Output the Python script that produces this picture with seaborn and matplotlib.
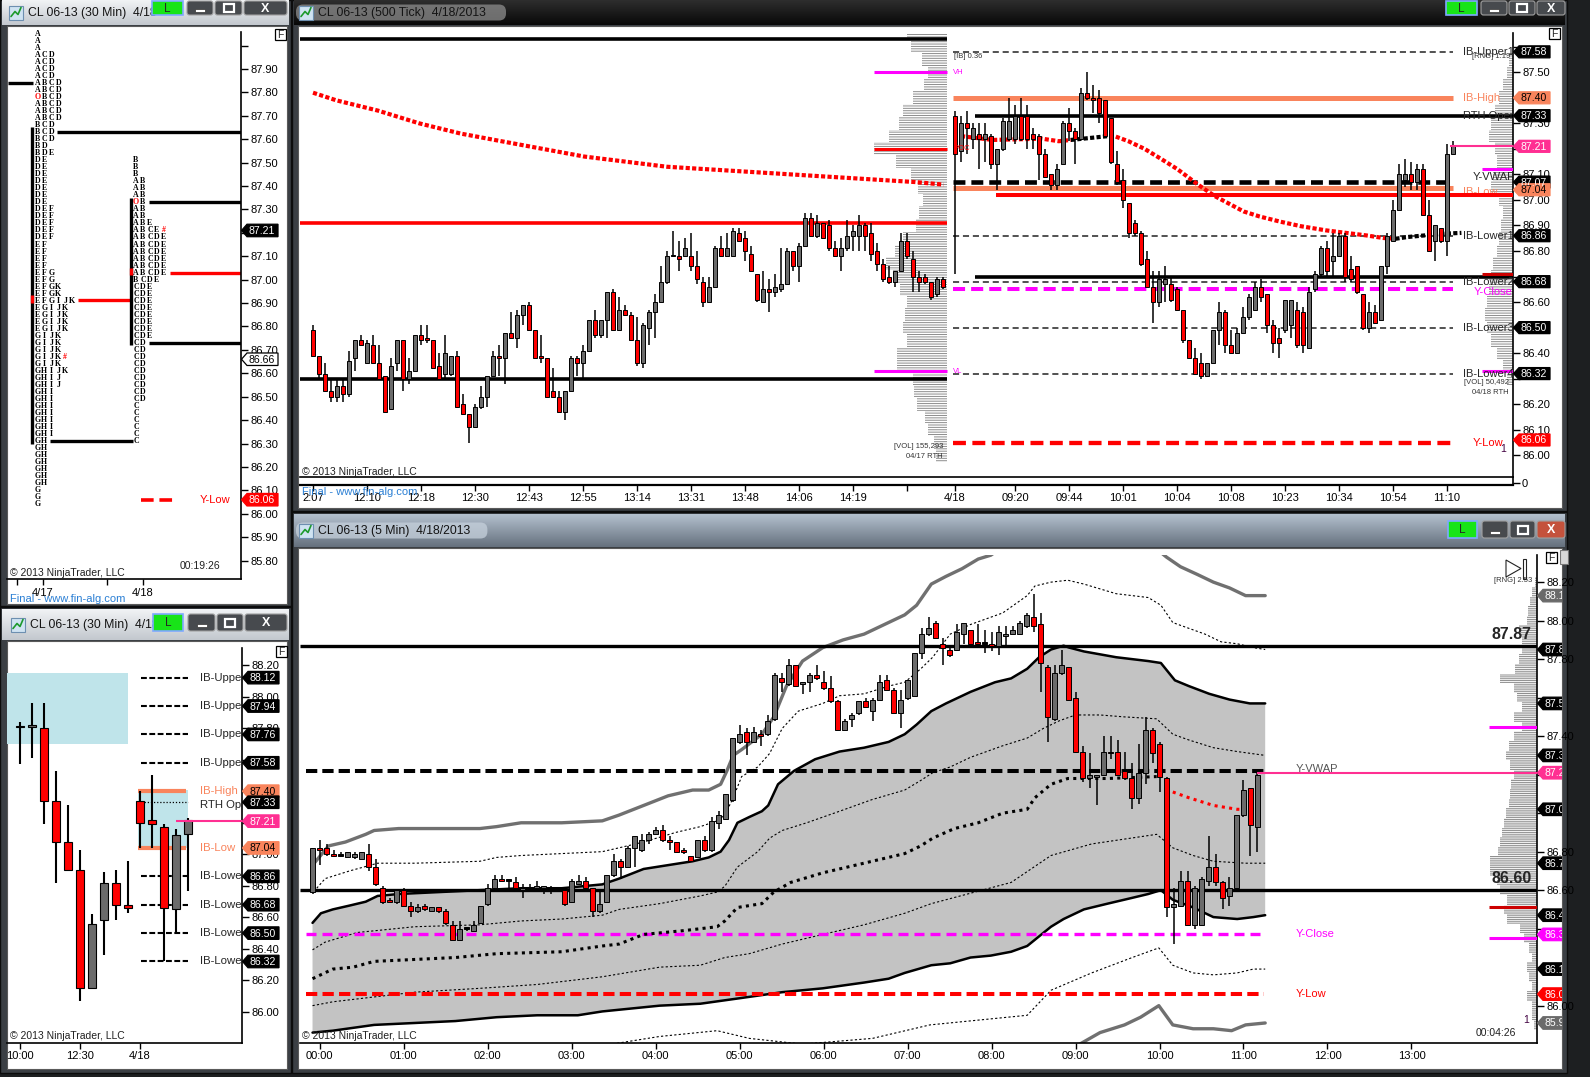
import numpy as np
import pandas as pd
import matplotlib
matplotlib.use("Agg")
import matplotlib.pyplot as plt
import seaborn as sns
from matplotlib.patches import Rectangle, Polygon, FancyBboxPatch
from matplotlib.colors import LinearSegmentedColormap
from matplotlib.transforms import Bbox

W, H = 1590, 1077
UP = "#6b6b6b"
DOWN = "#ff0000"
ORANGE = "#f9845c"
PINK = "#ff2f92"
MAGENTA = "#ff00ff"
LIGHTBLUE = "#bfe4ea"
FILLGRAY = "#c3c3c3"

# ---------------- data ----------------
# TPO profile rows: (letters, number of identical rows), one row = 0.03
TPO_STEP = 0.03
TPO_0417_TOP = 88.05
TPO_0417 = [("A", 3), ("ACD", 4), ("ABCD", 2), ("OBCD", 1), ("ABCD", 3), ("BCD", 3),
            ("BD", 1), ("BDE", 1), ("DE", 7), ("DEF", 5), ("EF", 4), ("EFG", 2),
            ("EFGK", 2), ("EFGIJK", 1), ("EGIJK", 4), ("GIJK", 3), ("GIJK#", 1),
            ("GIJK", 1), ("GHIJK", 1), ("GHIJ", 2), ("GHI", 7), ("GH", 7), ("G", 3)]
TPO_0418_TOP = 87.51
TPO_0418 = [("B", 3), ("AB", 3), ("OB", 1), ("AB", 2), ("ABE", 1), ("ABCE#", 1),
            ("ABCDE", 6), ("BCDE", 1), ("CDE", 8), ("CD", 9), ("C", 6)]
VA_0417 = (86.30, 87.65)
VA_0418 = (86.72, 87.35)
POC_0417 = 86.915
POC_0418 = 87.035
TPO_PRIOR_HIGH = 87.84
TPO_LEVELS_BLACK = [87.63, 86.31, 87.333, 86.73]
TPO_LEVEL_RED = 87.03
TPO_BOXES = [87.21, 86.66, 86.06]

# 30 min bars (open, high, low, close)
BARS_30M = [(87.81, 87.84, 87.57, 87.81), (87.81, 87.96, 87.61, 87.82),
            (87.80, 87.96, 87.19, 87.34), (87.34, 87.53, 86.82, 87.08),
            (87.08, 87.31, 86.90, 86.90), (86.90, 87.03, 86.07, 86.15),
            (86.15, 86.62, 86.15, 86.56), (86.58, 86.89, 86.36, 86.82),
            (86.82, 86.90, 86.58, 86.68), (86.68, 86.96, 86.63, 86.66),
            (87.34, 87.40, 87.04, 87.20), (87.22, 87.50, 87.04, 87.19),
            (87.17, 87.19, 86.32, 86.66), (86.65, 87.16, 86.50, 87.12),
            (87.13, 87.23, 86.77, 87.22)]
TIME_30M = ["10:00", "12:30", "4/18"]
IB_BOX_0417 = (87.70, 88.15)
IB_BOX_0418 = (87.04, 87.41)
IB_LEVELS = [88.12, 87.94, 87.76, 87.58, 86.86, 86.68, 86.50, 86.32]
IB_NAMES_30M = ["IB-Upper", "IB-Upper", "IB-Upper", "IB-Upper",
                "IB-Lower", "IB-Lower", "IB-Lower", "IB-Lower"]
IB_HIGH, IB_LOW, RTH_OPEN, LAST = 87.40, 87.04, 87.33, 87.21
BOXES_30M = [88.12, 87.94, 87.76, 87.58, 87.40, 87.33, 87.21, 87.04, 86.86, 86.68, 86.50, 86.32]

# 500 tick bars (open, high, low, close)
TICK_0417 = [
    (86.49, 86.51, 86.39, 86.39), (86.39, 86.39, 86.30, 86.32), (86.32, 86.36, 86.25, 86.25),
    (86.25, 86.30, 86.21, 86.23), (86.23, 86.30, 86.21, 86.27), (86.27, 86.30, 86.21, 86.24),
    (86.24, 86.41, 86.23, 86.37), (86.38, 86.45, 86.33, 86.45), (86.45, 86.47, 86.43, 86.43),
    (86.36, 86.45, 86.36, 86.44), (86.43, 86.47, 86.36, 86.36), (86.36, 86.43, 86.30, 86.30),
    (86.31, 86.31, 86.17, 86.17), (86.18, 86.38, 86.18, 86.35), (86.36, 86.45, 86.33, 86.45),
    (86.45, 86.45, 86.25, 86.30), (86.30, 86.38, 86.28, 86.33), (86.33, 86.47, 86.33, 86.47),
    (86.47, 86.51, 86.43, 86.45), (86.46, 86.51, 86.44, 86.45), (86.45, 86.45, 86.34, 86.34),
    (86.35, 86.40, 86.30, 86.30), (86.32, 86.47, 86.30, 86.40), (86.32, 86.39, 86.31, 86.39),
    (86.39, 86.41, 86.19, 86.19), (86.20, 86.24, 86.16, 86.16), (86.16, 86.16, 86.05, 86.11),
    (86.11, 86.20, 86.11, 86.19), (86.19, 86.27, 86.18, 86.23), (86.23, 86.31, 86.19, 86.31),
    (86.31, 86.41, 86.31, 86.39), (86.39, 86.43, 86.31, 86.38), (86.38, 86.48, 86.28, 86.48),
    (86.48, 86.56, 86.46, 86.46), (86.46, 86.57, 86.42, 86.55), (86.55, 86.59, 86.51, 86.59),
    (86.59, 86.60, 86.49, 86.49), (86.49, 86.49, 86.38, 86.38), (86.39, 86.47, 86.36, 86.38),
    (86.38, 86.38, 86.23, 86.23), (86.25, 86.34, 86.23, 86.23), (86.23, 86.25, 86.17, 86.17),
    (86.17, 86.25, 86.14, 86.25), (86.25, 86.39, 86.25, 86.38), (86.38, 86.39, 86.31, 86.36),
    (86.36, 86.43, 86.30, 86.41), (86.41, 86.53, 86.41, 86.53), (86.53, 86.57, 86.46, 86.47),
    (86.47, 86.53, 86.46, 86.53), (86.53, 86.64, 86.46, 86.64), (86.64, 86.65, 86.49, 86.49),
    (86.49, 86.62, 86.49, 86.57), (86.57, 86.59, 86.55, 86.55), (86.55, 86.56, 86.45, 86.45),
    (86.45, 86.54, 86.35, 86.36), (86.36, 86.52, 86.34, 86.51), (86.50, 86.57, 86.43, 86.56),
    (86.56, 86.63, 86.46, 86.60), (86.60, 86.74, 86.60, 86.68), (86.68, 86.80, 86.67, 86.78),
    (86.78, 86.88, 86.78, 86.78), (86.78, 86.84, 86.72, 86.77), (86.78, 86.85, 86.78, 86.81),
    (86.78, 86.87, 86.72, 86.74), (86.74, 86.80, 86.67, 86.69), (86.68, 86.70, 86.58, 86.60),
    (86.60, 86.70, 86.60, 86.66), (86.66, 86.82, 86.66, 86.81), (86.81, 86.86, 86.78, 86.78),
    (86.78, 86.87, 86.78, 86.81), (86.78, 86.89, 86.78, 86.88), (86.87, 86.89, 86.84, 86.84),
    (86.85, 86.88, 86.76, 86.80), (86.79, 86.82, 86.72, 86.72), (86.71, 86.71, 86.60, 86.61),
    (86.60, 86.72, 86.60, 86.65), (86.65, 86.69, 86.56, 86.64), (86.64, 86.71, 86.62, 86.66),
    (86.65, 86.81, 86.64, 86.67), (86.67, 86.81, 86.67, 86.80), (86.80, 86.80, 86.72, 86.74),
    (86.74, 86.83, 86.68, 86.82), (86.82, 86.95, 86.82, 86.93), (86.93, 86.95, 86.86, 86.86),
    (86.86, 86.94, 86.85, 86.91), (86.91, 86.91, 86.85, 86.85), (86.90, 86.92, 86.80, 86.81),
    (86.81, 86.84, 86.78, 86.78), (86.78, 86.85, 86.72, 86.81), (86.81, 86.92, 86.80, 86.86),
    (86.86, 86.90, 86.80, 86.88), (86.86, 86.94, 86.80, 86.90), (86.90, 86.91, 86.80, 86.86),
    (86.87, 86.91, 86.76, 86.79), (86.80, 86.83, 86.72, 86.75), (86.75, 86.77, 86.68, 86.69),
    (86.70, 86.74, 86.67, 86.68), (86.68, 86.72, 86.66, 86.72), (86.72, 86.87, 86.72, 86.84),
    (86.84, 86.87, 86.77, 86.78), (86.77, 86.80, 86.64, 86.70), (86.70, 86.72, 86.64, 86.68),
    (86.70, 86.71, 86.67, 86.68), (86.68, 86.68, 86.61, 86.62), (86.63, 86.70, 86.62, 86.69),
    (86.69, 86.70, 86.65, 86.66)]
TICK_0418 = [
    (87.33, 87.35, 86.71, 87.18), (87.19, 87.33, 87.15, 87.30), (87.30, 87.35, 87.18, 87.28),
    (87.24, 87.30, 87.20, 87.28), (87.26, 87.30, 87.12, 87.24), (87.24, 87.30, 87.15, 87.26),
    (87.25, 87.26, 87.12, 87.14), (87.14, 87.20, 87.04, 87.20), (87.20, 87.32, 87.19, 87.31),
    (87.24, 87.40, 87.23, 87.31), (87.24, 87.37, 87.22, 87.33), (87.33, 87.40, 87.23, 87.24),
    (87.33, 87.37, 87.20, 87.24), (87.26, 87.28, 87.20, 87.24), (87.25, 87.26, 87.08, 87.18),
    (87.18, 87.20, 87.09, 87.09), (87.10, 87.10, 87.04, 87.06), (87.06, 87.14, 87.04, 87.12),
    (87.14, 87.31, 87.14, 87.30), (87.30, 87.36, 87.23, 87.27), (87.27, 87.28, 87.14, 87.24),
    (87.24, 87.44, 87.24, 87.42), (87.42, 87.50, 87.39, 87.40), (87.40, 87.45, 87.34, 87.39),
    (87.40, 87.43, 87.30, 87.34), (87.39, 87.39, 87.25, 87.25), (87.32, 87.32, 87.14, 87.15),
    (87.14, 87.19, 87.06, 87.07), (87.08, 87.12, 86.97, 87.00), (86.99, 86.99, 86.85, 86.87),
    (86.91, 86.92, 86.86, 86.87), (86.87, 86.88, 86.74, 86.75), (86.77, 86.80, 86.66, 86.66),
    (86.66, 86.72, 86.52, 86.60), (86.60, 86.72, 86.58, 86.69), (86.67, 86.74, 86.60, 86.69),
    (86.67, 86.70, 86.60, 86.61), (86.65, 86.66, 86.57, 86.57), (86.57, 86.57, 86.44, 86.45),
    (86.45, 86.45, 86.38, 86.38), (86.38, 86.42, 86.32, 86.32), (86.36, 86.40, 86.30, 86.31),
    (86.31, 86.36, 86.31, 86.36), (86.36, 86.49, 86.36, 86.49), (86.49, 86.60, 86.43, 86.56),
    (86.56, 86.57, 86.40, 86.43), (86.43, 86.49, 86.40, 86.40), (86.40, 86.50, 86.40, 86.48),
    (86.48, 86.58, 86.48, 86.54), (86.54, 86.63, 86.53, 86.62), (86.57, 86.68, 86.57, 86.66),
    (86.66, 86.69, 86.60, 86.62), (86.63, 86.63, 86.48, 86.51), (86.51, 86.53, 86.40, 86.44),
    (86.46, 86.50, 86.38, 86.44), (86.49, 86.61, 86.48, 86.61), (86.51, 86.61, 86.46, 86.61),
    (86.57, 86.60, 86.42, 86.43), (86.56, 86.58, 86.40, 86.43), (86.42, 86.66, 86.42, 86.64),
    (86.65, 86.72, 86.64, 86.71), (86.71, 86.82, 86.70, 86.81), (86.81, 86.84, 86.70, 86.72),
    (86.76, 86.87, 86.70, 86.78), (86.78, 86.87, 86.78, 86.86), (86.86, 86.87, 86.68, 86.70),
    (86.73, 86.78, 86.68, 86.69), (86.74, 86.74, 86.63, 86.64), (86.63, 86.63, 86.49, 86.50),
    (86.50, 86.60, 86.48, 86.56), (86.56, 86.59, 86.52, 86.52), (86.53, 86.74, 86.53, 86.74),
    (86.74, 86.87, 86.71, 86.86), (86.84, 87.00, 86.84, 86.96), (86.96, 87.14, 86.96, 87.10),
    (87.08, 87.16, 87.05, 87.10), (87.10, 87.15, 87.04, 87.07), (87.07, 87.14, 87.04, 87.12),
    (87.12, 87.14, 86.94, 86.94), (86.94, 87.00, 86.80, 86.80), (86.84, 86.90, 86.76, 86.90),
    (86.89, 86.89, 86.83, 86.84), (86.84, 87.22, 86.78, 87.18), (87.18, 87.23, 87.18, 87.21)]
TICK_LABELS_0417 = ["2:07", "12:10", "12:18", "12:30", "12:43", "12:55", "13:14",
                    "13:31", "13:48", "14:06", "14:19"]
TICK_LABELS_0418 = ["4/18", "09:20", "09:44", "10:01", "10:04", "10:08", "10:23",
                    "10:34", "10:54", "11:10"]
VWAP_0417 = [(0, 87.42), (3.9, 87.39), (10.8, 87.35), (17.7, 87.30), (24.6, 87.26),
             (31.4, 87.23), (38.3, 87.20), (45.2, 87.17), (52.1, 87.15), (59.0, 87.13),
             (65.9, 87.12), (72.8, 87.11), (79.7, 87.10), (86.6, 87.09), (93.5, 87.08),
             (100.4, 87.07), (105.1, 87.06)]
VWAP_0418_SEGMENTS = [
    ("red", [(108, 87.25), (113.3, 87.235), (121.5, 87.24), (124.3, 87.23), (126.3, 87.235)]),
    ("black", [(126.3, 87.235), (132.5, 87.25), (133.8, 87.248)]),
    ("red", [(133.8, 87.248), (135.9, 87.23), (138.6, 87.20), (141.4, 87.16), (144.1, 87.12),
             (147.5, 87.06), (150.3, 87.015), (155.1, 86.955), (157.8, 86.935), (161.2, 86.915),
             (164.7, 86.897), (168.8, 86.881), (171.5, 86.873), (175.6, 86.861), (178.4, 86.851),
             (180.4, 86.848)]),
    ("black", [(180.4, 86.848), (182.5, 86.855), (185.2, 86.861), (188.6, 86.868), (191.4, 86.871)]),
]
VA_TICK_0417 = [87.63, 86.30]
POC_TICK_0417 = 86.91
VOL_MARKS_0417 = [87.50, 87.20, 86.33]          # VH, POC, VL
IB_TICK_DASHED = [87.58, 86.86, 86.68, 86.50, 86.32]
IB_TICK_NAMES = ["IB-Upper1", "IB-Lower1", "IB-Lower2", "IB-Lower3", "IB-Lower4"]
Y_VWAP_TICK, Y_CLOSE_TICK, Y_LOW = 87.07, 86.65, 86.05
RED_LEVEL_TICK, BLACK_LEVEL_TICK = 87.025, 86.70
TICK_MARKS_RIGHT = [87.12, 86.71, 86.33]
TICK_BOXES = [87.58, 87.40, 87.33, 87.21, 87.07, 87.04, 86.86, 86.68, 86.50, 86.32, 86.06]

# volume profiles (0.05 bins, relative length)
PROF_0417_LEVELS = [87.65, 87.60, 87.55, 87.50, 87.45, 87.40, 87.35, 87.30, 87.25, 87.20,
                    87.15, 87.10, 87.05, 87.00, 86.95, 86.90, 86.85, 86.80, 86.75, 86.70,
                    86.65, 86.60, 86.55, 86.50, 86.45, 86.40, 86.35, 86.30, 86.25, 86.20,
                    86.15, 86.10, 86.05, 86.00]
PROF_0417 = [0.55, 0.50, 0.35, 0.26, 0.32, 0.47, 0.60, 0.66, 0.80, 1.00,
             0.70, 0.50, 0.40, 0.33, 0.38, 0.42, 0.60, 0.72, 0.84, 0.74,
             0.65, 0.55, 0.58, 0.60, 0.55, 0.68, 0.68, 0.47, 0.45, 0.41,
             0.30, 0.26, 0.18, 0.15]
PROF_0418_LEVELS = [87.55, 87.50, 87.45, 87.40, 87.35, 87.30, 87.25, 87.20, 87.15, 87.10,
                    87.05, 87.00, 86.95, 86.90, 86.85, 86.80, 86.75, 86.70, 86.65, 86.60,
                    86.55, 86.50, 86.45, 86.40, 86.35, 86.30]
PROF_0418 = [0.14, 0.21, 0.36, 0.50, 0.64, 0.79, 0.86, 0.64, 0.57, 0.71,
             0.79, 0.50, 0.36, 0.43, 0.50, 0.57, 0.71, 0.79, 0.86, 0.93,
             1.00, 0.93, 0.79, 0.57, 0.36, 0.21]

# 5 min bars (open, high, low, close), first bar = 23:55
BARS_5M = [
    (86.59, 86.82, 86.58, 86.82), (86.82, 86.86, 86.73, 86.81), (86.82, 86.84, 86.78, 86.79),
    (86.79, 86.81, 86.77, 86.78), (86.78, 86.80, 86.77, 86.78), (86.77, 86.80, 86.77, 86.80),
    (86.77, 86.80, 86.76, 86.79), (86.76, 86.80, 86.76, 86.80), (86.79, 86.84, 86.70, 86.72),
    (86.72, 86.76, 86.62, 86.63), (86.61, 86.62, 86.53, 86.54), (86.55, 86.56, 86.54, 86.54),
    (86.54, 86.60, 86.53, 86.60), (86.60, 86.61, 86.52, 86.52), (86.52, 86.54, 86.46, 86.49),
    (86.49, 86.53, 86.48, 86.51), (86.52, 86.53, 86.49, 86.50), (86.49, 86.51, 86.49, 86.51),
    (86.51, 86.51, 86.48, 86.49), (86.49, 86.50, 86.42, 86.43), (86.42, 86.44, 86.34, 86.34),
    (86.34, 86.44, 86.34, 86.40), (86.40, 86.41, 86.39, 86.40), (86.39, 86.44, 86.39, 86.42),
    (86.43, 86.52, 86.43, 86.52), (86.53, 86.63, 86.52, 86.61), (86.61, 86.68, 86.60, 86.66),
    (86.66, 86.68, 86.65, 86.65), (86.65, 86.66, 86.61, 86.65), (86.64, 86.67, 86.60, 86.61),
    (86.60, 86.63, 86.56, 86.61), (86.61, 86.63, 86.59, 86.61), (86.61, 86.65, 86.60, 86.62),
    (86.61, 86.62, 86.58, 86.62), (86.61, 86.62, 86.58, 86.61), (86.60, 86.61, 86.59, 86.60),
    (86.60, 86.60, 86.52, 86.53), (86.54, 86.66, 86.54, 86.65), (86.63, 86.68, 86.63, 86.65),
    (86.65, 86.67, 86.60, 86.61), (86.61, 86.61, 86.46, 86.49), (86.49, 86.59, 86.48, 86.53),
    (86.54, 86.68, 86.54, 86.68), (86.68, 86.79, 86.67, 86.75), (86.75, 86.76, 86.66, 86.72),
    (86.72, 86.83, 86.72, 86.82), (86.82, 86.88, 86.72, 86.88), (86.81, 86.89, 86.80, 86.86),
    (86.86, 86.90, 86.84, 86.89), (86.89, 86.93, 86.89, 86.91), (86.91, 86.94, 86.85, 86.86),
    (86.86, 86.88, 86.81, 86.85), (86.85, 86.85, 86.80, 86.80), (86.81, 86.82, 86.79, 86.80),
    (86.78, 86.78, 86.75, 86.75), (86.77, 86.86, 86.77, 86.86), (86.86, 86.88, 86.80, 86.81),
    (86.81, 86.98, 86.80, 86.96), (86.95, 87.01, 86.92, 86.99), (86.97, 87.10, 86.97, 87.10),
    (87.07, 87.39, 87.06, 87.39), (87.37, 87.46, 87.36, 87.41), (87.42, 87.44, 87.30, 87.37),
    (87.37, 87.45, 87.37, 87.42), (87.41, 87.43, 87.35, 87.40), (87.41, 87.51, 87.40, 87.48),
    (87.49, 87.73, 87.48, 87.72), (87.70, 87.73, 87.63, 87.68), (87.67, 87.80, 87.66, 87.77),
    (87.77, 87.77, 87.66, 87.66), (87.67, 87.68, 87.62, 87.68), (87.68, 87.73, 87.63, 87.72),
    (87.72, 87.77, 87.69, 87.70), (87.68, 87.74, 87.64, 87.65), (87.65, 87.71, 87.57, 87.58),
    (87.58, 87.59, 87.43, 87.43), (87.43, 87.49, 87.43, 87.48), (87.49, 87.52, 87.45, 87.51),
    (87.52, 87.58, 87.51, 87.58), (87.58, 87.60, 87.55, 87.55), (87.53, 87.60, 87.48, 87.59),
    (87.59, 87.72, 87.59, 87.68), (87.69, 87.72, 87.64, 87.64), (87.64, 87.65, 87.52, 87.52),
    (87.52, 87.64, 87.44, 87.59), (87.60, 87.69, 87.59, 87.69), (87.61, 87.83, 87.61, 87.83),
    (87.83, 87.96, 87.80, 87.93), (87.93, 88.02, 87.92, 87.96), (87.99, 88.00, 87.91, 87.91),
    (87.88, 87.91, 87.77, 87.86), (87.85, 87.86, 87.81, 87.82), (87.85, 87.98, 87.84, 87.94),
    (87.93, 87.99, 87.88, 87.99), (87.95, 87.95, 87.88, 87.88), (87.89, 87.98, 87.87, 87.88),
    (87.88, 87.95, 87.83, 87.88), (87.88, 87.94, 87.84, 87.87), (87.87, 87.97, 87.82, 87.94),
    (87.92, 87.97, 87.86, 87.93), (87.93, 87.97, 87.93, 87.95), (87.93, 88.00, 87.93, 87.99),
    (87.97, 88.04, 87.96, 88.03), (88.02, 88.14, 87.94, 87.97), (87.98, 88.04, 87.63, 87.78),
    (87.76, 87.77, 87.37, 87.50), (87.49, 87.77, 87.48, 87.73), (87.73, 87.85, 87.72, 87.77),
    (87.76, 87.76, 87.58, 87.59), (87.60, 87.63, 87.31, 87.32), (87.32, 87.35, 87.16, 87.18),
    (87.18, 87.31, 87.13, 87.20), (87.19, 87.20, 87.04, 87.20), (87.20, 87.40, 87.20, 87.32),
    (87.32, 87.40, 87.28, 87.31), (87.32, 87.38, 87.20, 87.20), (87.22, 87.32, 87.17, 87.18),
    (87.18, 87.26, 87.02, 87.08), (87.08, 87.36, 87.05, 87.21), (87.21, 87.50, 87.15, 87.43),
    (87.43, 87.44, 87.26, 87.31), (87.36, 87.37, 87.11, 87.19), (87.18, 87.19, 86.46, 86.51),
    (86.51, 86.61, 86.32, 86.53), (86.52, 86.70, 86.51, 86.65), (86.65, 86.70, 86.42, 86.42),
    (86.42, 86.62, 86.40, 86.61), (86.42, 86.67, 86.42, 86.66), (86.65, 86.88, 86.62, 86.72),
    (86.72, 86.79, 86.62, 86.64), (86.64, 86.65, 86.50, 86.56), (86.57, 86.67, 86.52, 86.61),
    (86.61, 86.99, 86.61, 86.99), (86.99, 87.17, 86.98, 87.12), (87.13, 87.13, 86.78, 86.94),
    (86.93, 87.22, 86.80, 87.20)]
HOURS_5M = ["00:00", "01:00", "02:00", "03:00", "04:00", "05:00", "06:00",
            "07:00", "08:00", "09:00", "10:00", "11:00", "12:00", "13:00"]
BAND_OUT_UP = [(0, 86.73), (2.3, 86.83), (4.7, 86.85), (7.6, 86.89), (8.8, 86.91), (12.3, 86.92),
               (18.1, 86.92), (23.9, 86.92), (26.3, 86.93), (29.8, 86.95), (35.6, 86.95),
               (41.4, 86.96), (43.8, 86.99), (47.3, 87.04), (50.8, 87.09), (54.3, 87.12),
               (56.6, 87.12), (58.3, 87.15), (59.2, 87.22), (60.1, 87.30), (61.3, 87.33),
               (64.2, 87.41), (65.9, 87.50), (67.7, 87.66), (70.0, 87.79), (72.9, 87.86),
               (75.8, 87.90), (78.8, 87.93), (81.7, 87.98), (84.6, 88.03), (86.3, 88.08),
               (88.4, 88.19), (90.5, 88.23), (92.8, 88.27), (95.1, 88.32), (96.9, 88.34),
               (100, 88.42), (110, 88.52), (118, 88.45), (122.0, 88.33), (124.0, 88.28),
               (126.4, 88.24), (128.7, 88.20), (131.0, 88.17), (133.3, 88.13), (136.1, 88.13)]
BAND_UP = [(0, 86.43), (1.2, 86.48), (2.9, 86.50), (5.3, 86.52), (7.6, 86.54), (9.3, 86.57),
           (12.3, 86.58), (18.1, 86.59), (23.9, 86.60), (29.8, 86.61), (35.6, 86.61),
           (41.4, 86.63), (43.8, 86.66), (47.3, 86.71), (50.8, 86.73), (54.3, 86.75),
           (56.6, 86.77), (58.3, 86.80), (59.5, 86.86), (60.7, 86.95), (62.4, 86.98),
           (64.2, 87.01), (65.1, 87.04), (66.5, 87.15), (68.8, 87.22), (71.8, 87.28),
           (75.3, 87.32), (78.8, 87.34), (82.3, 87.37), (84.6, 87.41), (86.3, 87.46),
           (88.4, 87.53), (90.5, 87.57), (94.0, 87.63), (97.5, 87.68), (99.8, 87.70),
           (102.1, 87.75), (103.8, 87.81), (105.5, 87.85), (107.3, 87.87), (108.1, 87.86),
           (110.2, 87.84), (114.8, 87.81), (119.4, 87.79), (121.2, 87.78), (123.2, 87.69),
           (125.2, 87.66), (128.1, 87.62), (131.0, 87.59), (133.9, 87.57), (136.1, 87.57)]
BAND_DN = [(0, 85.86), (2.9, 85.87), (8.8, 85.90), (14.6, 85.91), (20.4, 85.92), (26.3, 85.94),
           (32.1, 85.95), (37.9, 85.95), (41.4, 85.97), (49.6, 86.00), (55.4, 86.01),
           (61.3, 86.04), (67.1, 86.07), (72.9, 86.09), (78.8, 86.12), (82.3, 86.14),
           (84.6, 86.17), (88.4, 86.21), (91.1, 86.22), (94.0, 86.25), (96.9, 86.26),
           (99.8, 86.28), (102.1, 86.31), (103.8, 86.36), (105.5, 86.41), (107.3, 86.45),
           (110.2, 86.50), (113.6, 86.53), (117.1, 86.56), (119.4, 86.58), (121.2, 86.60),
           (122.9, 86.55), (125.8, 86.51), (128.7, 86.46), (132.1, 86.45), (134.4, 86.46),
           (136.1, 86.47)]
BAND_OUT_DN = [(100, 85.62), (106, 85.72), (109.6, 85.80), (112.5, 85.86), (116.0, 85.90),
               (118.3, 85.94), (120.9, 86.00), (122.9, 85.90), (125.8, 85.88), (128.7, 85.88),
               (131.3, 85.87), (133.3, 85.90), (136.1, 85.91)]
DOT_UP = [(0.6, 86.61), (1.8, 86.66), (5.3, 86.70), (9.3, 86.74), (14.6, 86.74), (23.9, 86.75),
          (26.3, 86.77), (29.8, 86.78), (35.6, 86.79), (41.4, 86.80), (43.8, 86.82), (47.3, 86.85),
          (51.9, 86.90), (55.4, 86.93), (57.8, 86.96), (58.9, 86.99), (60.1, 87.08), (61.3, 87.19),
          (63.6, 87.24), (65.3, 87.31), (67.1, 87.44), (69.4, 87.53), (72.9, 87.57), (75.3, 87.61),
          (78.8, 87.62), (82.3, 87.66), (84.6, 87.68), (86.9, 87.75), (88.6, 87.81), (91.1, 87.93),
          (94.0, 87.98), (98.6, 88.04), (102.1, 88.13), (103.2, 88.18), (105.5, 88.20),
          (107.9, 88.21), (110.2, 88.19), (114.8, 88.14), (119.4, 88.12), (121.2, 88.08),
          (122.9, 87.99), (125.2, 87.96), (127.5, 87.93), (129.8, 87.89), (132.1, 87.88),
          (134.4, 87.86), (136.1, 87.85)]
DOT_MID = [(0, 86.29), (1.8, 86.33), (6.4, 86.38), (14.6, 86.41), (23.9, 86.42), (29.8, 86.44),
           (35.6, 86.45), (41.4, 86.47), (43.8, 86.50), (49.6, 86.53), (55.4, 86.57), (57.8, 86.59),
           (58.9, 86.62), (60.7, 86.72), (63.6, 86.80), (65.3, 86.87), (67.1, 86.91), (70.6, 86.95),
           (75.3, 87.01), (79.9, 87.07), (84.6, 87.12), (86.9, 87.17), (88.6, 87.21), (91.1, 87.24),
           (94.0, 87.29), (98.6, 87.35), (102.1, 87.39), (104.4, 87.44), (106.7, 87.48),
           (109.0, 87.51), (112.5, 87.51), (116.0, 87.50), (120.6, 87.49), (122.9, 87.41),
           (125.2, 87.38), (128.7, 87.34), (132.1, 87.32), (136.1, 87.30)]
DOT_LOW = [(0, 86.00), (2.9, 86.02), (14.6, 86.07), (23.9, 86.09), (32.1, 86.11), (41.4, 86.15),
           (49.6, 86.20), (55.4, 86.21), (58.9, 86.25), (62.4, 86.27), (67.1, 86.32), (72.9, 86.37),
           (78.8, 86.42), (84.6, 86.48), (88.4, 86.53), (99.8, 86.64), (105.5, 86.78),
           (111.3, 86.84), (120.6, 86.89), (122.9, 86.82), (125.8, 86.78), (128.7, 86.75),
           (133.3, 86.74), (136.1, 86.74)]
DOT_DN = [(41, 85.79), (49.6, 85.84), (57.8, 85.87), (62.4, 85.83), (70, 85.80), (80, 85.83),
          (88.2, 85.90), (102.1, 85.95), (105.5, 86.08), (111.3, 86.17), (117.1, 86.25),
          (120.9, 86.30), (122.9, 86.21), (125.8, 86.17), (128.7, 86.16), (132.1, 86.17),
          (134.4, 86.19), (136.1, 86.19)]
VWAP_5M = [(0, 86.14), (2.9, 86.19), (5.8, 86.20), (8.8, 86.23), (14.6, 86.24), (20.4, 86.25),
           (26.3, 86.27), (35.6, 86.28), (41.4, 86.31), (43.8, 86.32), (47.3, 86.37), (53.1, 86.39),
           (57.8, 86.41), (58.9, 86.44), (60.7, 86.51), (64.2, 86.53), (65.9, 86.59), (68.3, 86.64),
           (72.9, 86.69), (77.6, 86.73), (81.1, 86.76), (84.6, 86.79), (86.9, 86.83), (88.6, 86.87),
           (91.7, 86.92), (95.1, 86.95), (98.6, 87.00), (102.1, 87.02), (103.2, 87.08),
           (105.5, 87.15), (107.9, 87.18), (109.6, 87.18), (113.6, 87.18), (120.6, 87.19)]
VWAP_5M_RED = [(122.9, 87.11), (125.2, 87.08), (128.7, 87.04), (132.1, 87.02), (134.5, 87.02)]
LEVELS_5M = [87.87, 86.60]
Y_VWAP_5M, Y_CLOSE_5M, Y_LOW_5M = 87.22, 86.37, 86.06
MARKS_5M = [87.45, 86.51, 86.35]
BOXES_5M = [88.13, 87.85, 87.57, 87.30, 87.21, 87.02, 86.74, 86.47, 86.37, 86.19, 86.06, 85.91]
PROF_5M_LEVELS = [88.20, 88.15, 88.10, 88.05, 88.00, 87.95, 87.90, 87.85, 87.80, 87.75, 87.70,
                  87.65, 87.60, 87.55, 87.50, 87.45, 87.40, 87.35, 87.30, 87.25, 87.20, 87.15,
                  87.10, 87.05, 87.00, 86.95, 86.90, 86.85, 86.80, 86.75, 86.70, 86.65, 86.60,
                  86.55, 86.50, 86.45, 86.40, 86.35, 86.30, 86.25, 86.20, 86.15, 86.10, 86.05,
                  86.00, 85.95, 85.90]
PROF_5M = [0.05, 0.10, 0.15, 0.20, 0.22, 0.38, 0.32, 0.32, 0.38, 0.47, 0.79,
           0.49, 0.43, 0.32, 0.49, 0.32, 0.49, 0.60, 0.66, 0.57, 0.49, 0.55,
           0.57, 0.60, 0.66, 0.70, 0.74, 0.79, 0.83, 1.00, 1.00, 0.85, 0.79,
           0.64, 0.70, 0.64, 0.36, 0.28, 0.17, 0.11, 0.21, 0.17, 0.10, 0.21,
           0.10, 0.10, 0.06]

# ---------------- figure scaffolding ----------------
sns.set_theme(style="ticks")
plt.rcParams["font.family"] = ["Liberation Sans", "DejaVu Sans"]
plt.rcParams["hatch.linewidth"] = 0.7
plt.rcParams["hatch.color"] = "#8c8c8c"

fig = plt.figure(figsize=(W / 100, H / 100), dpi=100)
fig.patch.set_facecolor("#1d1f21")


def px_axes(x0, y0, x1, y1, z=1):
    ax = fig.add_axes([x0 / W, 1 - y1 / H, (x1 - x0) / W, (y1 - y0) / H])
    ax.set_zorder(z)
    return ax


bg = px_axes(0, 0, W, H, z=0)
bg.set_xlim(0, W)
bg.set_ylim(H, 0)
bg.axis("off")
ov = px_axes(0, 0, W, H, z=50)
ov.set_xlim(0, W)
ov.set_ylim(H, 0)
ov.axis("off")

BAR_CMAPS = {
    "light": LinearSegmentedColormap.from_list("l", ["#f1f3f5", "#c3c8ce"]),
    "dark": LinearSegmentedColormap.from_list("d", ["#2e2e2e", "#080808"]),
    "blue": LinearSegmentedColormap.from_list("b", ["#b3c0ce", "#66717e"]),
}


def button(x0, y0, x1, y1, kind, fc="#474a4e"):
    if kind == "L":
        bg.add_patch(Rectangle((x0, y0), x1 - x0, y1 - y0, fc="#18e418", ec="#7fa8ff", lw=1.2, zorder=6))
        bg.text((x0 + x1) / 2, (y0 + y1) / 2 + 0.5, "L", ha="center", va="center", fontsize=8.5, zorder=7)
        return
    bg.add_patch(FancyBboxPatch((x0, y0), x1 - x0, y1 - y0, boxstyle="round,pad=0,rounding_size=2.5",
                                fc=fc, ec="#a0a0a0", lw=0.8, zorder=6))
    cx, cy = (x0 + x1) / 2, (y0 + y1) / 2
    if kind == "min":
        bg.add_patch(Rectangle((cx - 5, cy + 1), 10, 3, fc="white", ec="#333", lw=0.5, zorder=7))
    elif kind == "max":
        bg.add_patch(Rectangle((cx - 5, cy - 4), 10, 8, fc="none", ec="white", lw=1.6, zorder=7))
    else:
        bg.text(cx, cy + 0.5, "X", ha="center", va="center", fontsize=9, color="white",
                fontweight="bold", zorder=7)


def window(frame, bar, content, title, style, tx, buttons):
    x0, y0, x1, y1 = frame
    bg.add_patch(Rectangle((x0, y0), x1 - x0, y1 - y0, fc="#3b3f44", ec="#0c0c0c", lw=1, zorder=1))
    bx0, by0, bx1, by1 = bar
    grad = np.linspace(0, 1, 64).reshape(-1, 1)
    bg.imshow(grad, extent=(bx0, bx1, by1, by0), aspect="auto", cmap=BAR_CMAPS[style], zorder=2)
    cx0, cy0, cx1, cy1 = content
    bg.add_patch(Rectangle((cx0, cy0), cx1 - cx0, cy1 - cy0, fc="white", ec="#5a5a5a", lw=0.8, zorder=3))
    ty = (by0 + by1) / 2
    if style != "light":
        halo = "#8e8e8e" if style == "dark" else "#c6d1dc"
        bg.add_patch(FancyBboxPatch((tx - 22, ty - 8), len(title) * 6.2 + 24, 16,
                                    boxstyle="round,pad=0,rounding_size=7", fc=halo, ec="none",
                                    alpha=0.75, zorder=3))
    # chart icon
    bg.add_patch(Rectangle((tx - 19, ty - 7), 14, 14, fc="#cfe3f2", ec="#6d8fb0", lw=0.8, zorder=4))
    bg.plot([tx - 17, tx - 13, tx - 10, tx - 7], [ty + 4, ty - 1, ty + 2, ty - 5], color="#1c9a2c",
            lw=1.2, zorder=5)
    bg.text(tx, ty + 0.5, title, ha="left", va="center", fontsize=8.8, color="#141414", zorder=5)
    for b in buttons:
        button(*b)


window((0, 0, 291, 606), (2, 0, 289, 25), (7, 26, 287, 604), "CL 06-13 (30 Min)  4/18", "light", 28,
       [(152, 1, 183, 15, "L"), (187, 1, 213, 15, "min"), (215, 1, 242, 15, "max"), (244, 1, 287, 15, "x")])
window((0, 607, 291, 1073), (2, 609, 289, 640), (7, 641, 287, 1069), "CL 06-13 (30 Min)  4/18", "light", 30,
       [(153, 614, 183, 631, "L"), (188, 614, 215, 631, "min"), (217, 614, 243, 631, "max"),
        (245, 614, 287, 631, "x")])
window((292, 0, 1567, 511), (294, 0, 1565, 25), (298, 26, 1562, 508), "CL 06-13 (500 Tick)  4/18/2013",
       "dark", 318,
       [(1446, 1, 1477, 15, "L"), (1481, 1, 1507, 15, "min"), (1509, 1, 1535, 15, "max"),
        (1537, 1, 1565, 15, "x")])
window((292, 512, 1567, 1073), (294, 514, 1565, 547), (298, 548, 1562, 1069), "CL 06-13 (5 Min)  4/18/2013",
       "blue", 318,
       [(1448, 521, 1477, 538, "L"), (1482, 521, 1508, 538, "min"), (1510, 521, 1535, 538, "max"),
        (1537, 521, 1565, 538, "x", "#c4523c")])


def ypx(P, price):
    return P["y0"] + (P["hi"] - price) / (P["hi"] - P["lo"]) * (P["y1"] - P["y0"])


def tick_labels(P, ticks, boxes, thr, blank_above=None):
    # labels that sit right under a price marker are not visible in the screenshot
    out = []
    for v in ticks:
        d = min(abs(ypx(P, v) - ypx(P, b)) for b in boxes)
        hidden = d < thr or (blank_above is not None and v > blank_above)
        out.append("" if hidden else "%.2f" % v)
    return out


def style_price_axis(ax, ticks, labels):
    ax.set_facecolor("none")
    for s in ["left", "top"]:
        ax.spines[s].set_visible(False)
    for s in ["right", "bottom"]:
        ax.spines[s].set_linewidth(1.2)
        ax.spines[s].set_color("black")
    ax.yaxis.tick_right()
    ax.set_yticks(ticks)
    ax.set_yticklabels(labels)
    ax.tick_params(axis="y", left=False, right=True, direction="out", length=5, width=1,
                   labelsize=8, pad=1.5, colors="black")
    ax.tick_params(axis="x", direction="out", length=4, width=1, labelsize=8, pad=2, colors="black")
    ax.grid(False)


def finish(ax, xlim, ylim):
    ax.set_xlim(*xlim)
    ax.set_ylim(*ylim)
    ax.set_xlabel("")
    ax.set_ylabel("")


def price_box(P, price, text, fc, tc="white", ec=None, clip=None, h=12.5, w=37):
    x, y = P["x1"], ypx(P, price)
    tip = 6
    poly = Polygon([[x + 0.5, y], [x + tip, y - h / 2], [x + w, y - h / 2], [x + w, y + h / 2],
                    [x + tip, y + h / 2]], closed=True, fc=fc, ec=ec or fc, lw=0.9, zorder=30)
    ov.add_patch(poly)
    t = ov.text(x + tip + 1.5, y + 0.5, text, color=tc, fontsize=7.6, ha="left", va="center",
                zorder=31, clip_on=True)
    if clip is not None:
        bb = Bbox.from_extents(clip[0], H - clip[3], clip[2], H - clip[1])
        poly.set_clip_box(bb)
        t.set_clip_box(bb)


def f_box(x, y):
    ov.add_patch(Rectangle((x, y), 11, 11, fc="white", ec="black", lw=0.9, zorder=30))
    ov.text(x + 5.5, y + 6, "F", ha="center", va="center", fontsize=7.5, zorder=31)


def candles(ax, xs, ohlc, width, wick_lw=1.1, edge_lw=0.7, min_h=0.006):
    arr = np.asarray(ohlc, dtype=float)
    o, h, l, c = arr.T
    xs = np.asarray(xs, dtype=float)
    ax.vlines(xs, l, h, colors="black", lw=wick_lw, zorder=5)
    colors = np.where(c > o, UP, np.where(c < o, DOWN, "black")).tolist()
    ax.bar(xs, np.maximum(np.abs(c - o), min_h), bottom=np.minimum(o, c), width=width,
           color=colors, edgecolor="black", linewidth=edge_lw, zorder=6)


def line(ax, pts, **kw):
    df = pd.DataFrame(pts, columns=["bar", "price"])
    sns.lineplot(data=df, x="bar", y="price", ax=ax, estimator=None, sort=False, **kw)


def profile(ax, levels, rel, right, scale, hatch):
    w = np.asarray(rel) * scale
    ax.barh(levels, w, left=right - w, height=0.05, color="none", edgecolor="#8c8c8c",
            hatch=hatch, linewidth=0, zorder=1)


# ---------------- panel A: TPO profile ----------------
PA = dict(x0=7, x1=241, y0=31.7, y1=579.3, lo=85.72, hi=88.059)
axA = px_axes(PA["x0"], PA["y0"], PA["x1"], PA["y1"], z=5)
yt = np.round(np.arange(85.8, 88.05, 0.1), 2)
style_price_axis(axA, yt, tick_labels(PA, yt, TPO_BOXES, 5.5, blank_above=87.95))
for rows, top, x_first in [(TPO_0417, TPO_0417_TOP, 37.3), (TPO_0418, TPO_0418_TOP, 136.0)]:
    price = top
    for letters, n in rows:
        for _ in range(n):
            for k, ch in enumerate(letters):
                axA.text(x_first + 7 * k, price, ch, fontsize=5.7, fontweight="bold",
                         family="Liberation Serif", color="red" if ch in "O#" else "black",
                         ha="center", va="center", zorder=4)
            price -= TPO_STEP
axA.vlines(32.3, *VA_0417, color="black", lw=2.4, zorder=3)
axA.vlines(32.3, POC_0417 - 0.015, POC_0417 + 0.02, color="red", lw=2.4, zorder=4)
axA.vlines(130.7, *VA_0418, color="black", lw=2.4, zorder=3)
axA.vlines(130.7, POC_0418 - 0.015, POC_0418 + 0.015, color="red", lw=2.4, zorder=4)
axA.hlines(TPO_PRIOR_HIGH, 8, 33, color="black", lw=2.4)
axA.hlines(TPO_LEVELS_BLACK[0], 57, 241, color="black", lw=2.4)
axA.hlines(TPO_LEVELS_BLACK[1], 50, 133, color="black", lw=2.4)
axA.hlines(TPO_LEVELS_BLACK[2], 149, 241, color="black", lw=2.4)
axA.hlines(TPO_LEVELS_BLACK[3], 149, 241, color="black", lw=2.4)
axA.hlines(POC_0417, 78, 130, color="red", lw=2.4)
axA.hlines(TPO_LEVEL_RED, 170, 241, color="red", lw=2.4)
axA.plot([141, 177], [Y_LOW_5M, Y_LOW_5M], color="red", lw=2.6, ls=(0, (3.5, 1.6)))
axA.text(200, Y_LOW_5M, "Y-Low", color="red", fontsize=8, va="center")
axA.set_xticks([17, 43, 107, 143])
axA.set_xticklabels(["", "4/17", "", "4/18"])
finish(axA, (PA["x0"], PA["x1"]), (PA["lo"], PA["hi"]))
clipA = (7, 26, 287, 604)
price_box(PA, TPO_BOXES[0], "87.21", "black", clip=clipA)
price_box(PA, TPO_BOXES[1], "86.66", "white", tc="black", ec="black", clip=clipA)
price_box(PA, TPO_BOXES[2], "86.06", "red", clip=clipA)
f_box(275, 29)
ov.text(10, 573, "\u00a9 2013 NinjaTrader, LLC", fontsize=7.5, va="center", color="#202020")
ov.text(180, 566, "00:19:26", fontsize=7.5, va="center", color="#202020")
ov.text(10, 599, "Final - www.fin-alg.com", fontsize=8, va="center", color="#2a7fd4")

# ---------------- panel B: 30 min bars ----------------
PB = dict(x0=7, x1=242, y0=648, y1=1042.7, lo=85.805, hi=88.308)
axB = px_axes(PB["x0"], PB["y0"], PB["x1"], PB["y1"], z=5)
yt = np.round(np.arange(86.0, 88.25, 0.2), 2)
style_price_axis(axB, yt, tick_labels(PB, yt, BOXES_30M, 5.0))
axB.add_patch(Rectangle((-1.1, IB_BOX_0417[0]), 10.1, IB_BOX_0417[1] - IB_BOX_0417[0],
                        fc=LIGHTBLUE, lw=0, zorder=1))
axB.add_patch(Rectangle((9.83, IB_BOX_0418[0]), 4.17, IB_BOX_0418[1] - IB_BOX_0418[0],
                        fc=LIGHTBLUE, lw=0, zorder=1))
axB.hlines([IB_HIGH, IB_LOW], 9.83, 13.83, color=ORANGE, lw=3, zorder=2)
axB.plot([10.08, 14], [RTH_OPEN, RTH_OPEN], color="black", lw=0.9, ls=(0, (1, 1.5)), zorder=2)
for lvl in IB_LEVELS:
    axB.plot([10.08, 14], [lvl, lvl], color="black", lw=1.5, ls=(0, (2.8, 1.2)), zorder=2)
axB.hlines(LAST, 13, 18.5, color=PINK, lw=1.5, zorder=7)
candles(axB, np.arange(len(BARS_30M)), BARS_30M, 0.68, wick_lw=1.5, edge_lw=0.8)
for name, lvl in zip(IB_NAMES_30M, IB_LEVELS):
    axB.text(15.0, lvl, name, fontsize=8.2, va="center", clip_on=True)
axB.text(15.0, IB_HIGH, "IB-High", fontsize=8.2, va="center", color=ORANGE, clip_on=True)
axB.text(15.0, RTH_OPEN - 0.02, "RTH Open", fontsize=8.2, va="center", clip_on=True)
axB.text(15.0, IB_LOW, "IB-Low", fontsize=8.2, va="center", color=ORANGE, clip_on=True)
axB.set_xticks([0, 5, 10])
axB.set_xticklabels(TIME_30M)
finish(axB, (-1.083, 18.5), (PB["lo"], PB["hi"]))
clipB = (7, 641, 287, 1069)
box_fc = ["black"] * 4 + [ORANGE, "black", PINK, ORANGE] + ["black"] * 4
box_tc = ["white"] * 4 + ["black", "white", "white", "black"] + ["white"] * 4
for v, fc, tc in zip(BOXES_30M, box_fc, box_tc):
    price_box(PB, v, "%.2f" % v, fc, tc=tc, clip=clipB)
f_box(276, 646)
ov.text(10, 1036, "\u00a9 2013 NinjaTrader, LLC", fontsize=7.5, va="center", color="#202020")

# ---------------- panel C: 500 tick bars ----------------
PC = dict(x0=300, x1=1513, y0=32.7, y1=477, lo=85.915, hi=87.655)
axC = px_axes(PC["x0"], PC["y0"], PC["x1"], PC["y1"], z=5)
yt = np.round(np.arange(86.0, 87.65, 0.1), 2)
style_price_axis(axC, yt, tick_labels(PC, yt, TICK_BOXES, 6.0))
axC.tick_params(axis="x", bottom=False, labelbottom=False)
x17 = np.arange(len(TICK_0417))
x18 = 107 + np.arange(len(TICK_0418))
profile(axC, PROF_0417_LEVELS, PROF_0417, 105.7, 12.2, "-------")
profile(axC, PROF_0418_LEVELS, PROF_0418, 200, 4.7, "-------")
# 4/17 value area and volume marks
axC.hlines(VA_TICK_0417, -2.2, 105.7, color="black", lw=2.6, zorder=2)
axC.hlines(POC_TICK_0417, -2.2, 105.7, color="red", lw=2.6, zorder=2)
axC.hlines([VOL_MARKS_0417[0], VOL_MARKS_0417[2]], 93.5, 105.7, color=MAGENTA, lw=2.2, zorder=2)
axC.hlines(VOL_MARKS_0417[1], 93.5, 105.7, color="red", lw=2.2, zorder=2)
# 4/18 reference levels
for lvl in IB_TICK_DASHED:
    axC.plot([106.6, 190], [lvl, lvl], color="#222222", lw=1.1, ls=(0, (4, 2.5)), zorder=2)
axC.hlines(IB_HIGH, 106.6, 190, color=ORANGE, lw=3.6, zorder=2)
axC.hlines(IB_LOW + 0.005, 106.6, 190, color=ORANGE, lw=3.6, zorder=2)
axC.hlines(RED_LEVEL_TICK - 0.005, 113.8, 200, color="red", lw=2.9, zorder=3)
axC.hlines([RTH_OPEN, BLACK_LEVEL_TICK], 110.3, 200, color="black", lw=2.6, zorder=3)
axC.plot([106.6, 190], [Y_VWAP_TICK, Y_VWAP_TICK], color="black", lw=3.3, ls=(0, (2.6, 1.3)), zorder=3)
axC.plot([106.6, 190], [Y_CLOSE_TICK, Y_CLOSE_TICK], color=MAGENTA, lw=2.9, ls=(0, (3, 1.5)), zorder=3)
axC.plot([106.6, 190], [Y_LOW, Y_LOW], color="red", lw=3.1, ls=(0, (3, 1.5)), zorder=3)
axC.hlines([TICK_MARKS_RIGHT[0], TICK_MARKS_RIGHT[2]], 194.8, 200, color=MAGENTA, lw=2.2, zorder=3)
axC.hlines(TICK_MARKS_RIGHT[1], 194.8, 200, color="#cc0000", lw=2.2, zorder=3)
axC.hlines(LAST, 189.5, 200, color=PINK, lw=1.5, zorder=7)
# session vwap dots
line(axC, VWAP_0417, color="red", linewidth=3.0, linestyle=(0, (1, 0.55)), zorder=4)
for col, pts in VWAP_0418_SEGMENTS:
    line(axC, pts, color=col, linewidth=3.0, linestyle=(0, (1, 0.55)), zorder=4)
candles(axC, x17, TICK_0417, 0.72)
candles(axC, x18, TICK_0418, 0.72)
for name, lvl in zip(IB_TICK_NAMES, IB_TICK_DASHED):
    axC.text(191.6, lvl, name, fontsize=8, va="center", clip_on=True, zorder=8)
axC.text(191.6, IB_HIGH, "IB-High", fontsize=8, va="center", color=ORANGE, clip_on=True, zorder=8)
axC.text(191.6, RTH_OPEN, "RTH Open", fontsize=8, va="center", clip_on=True, zorder=8)
axC.text(193.2, Y_VWAP_TICK + 0.02, "Y-VWAP", fontsize=8, va="center", clip_on=True, zorder=8)
axC.text(191.6, IB_LOW - 0.01, "IB-Low", fontsize=8, va="center", color=ORANGE, clip_on=True, zorder=2)
axC.text(193.4, Y_CLOSE_TICK - 0.01, "Y-Close", fontsize=8, va="center", color=MAGENTA, clip_on=True, zorder=8)
axC.text(193.2, Y_LOW, "Y-Low", fontsize=8, va="center", color="red", clip_on=True, zorder=8)
finish(axC, (-2.17, 200), (PC["lo"], PC["hi"]))
axCs = px_axes(PC["x0"], 477, PC["x1"], 485, z=5)
style_price_axis(axCs, [0.3], ["0"])
axCs.spines["bottom"].set_linewidth(1.6)
tick_pos = [9 * k for k in range(11)] + [99, 107] + [117 + 9 * k for k in range(9)]
axCs.set_xticks(tick_pos)
axCs.set_xticklabels(TICK_LABELS_0417 + [""] + TICK_LABELS_0418)
finish(axCs, (-2.17, 200), (0, 1))
clipC = (298, 26, 1562, 508)
box_fc = ["black", ORANGE, "black", PINK, "black", ORANGE, "black", "black", "black", "black", "red"]
box_tc = ["white", "black", "white", "white", "white", "black", "white", "white", "white", "white", "white"]
for v, fc, tc in zip(TICK_BOXES, box_fc, box_tc):
    price_box(PC, v, "%.2f" % v, fc, tc=tc, clip=clipC, h=12)
f_box(1549, 28)
ov.text(954, 57, "[IB] 0.36", fontsize=5.5, va="center", color="#333333")
ov.text(1472, 57, "[RNG] 1.19", fontsize=5.5, va="center", color="#333333")
ov.text(953, ypx(PC, VOL_MARKS_0417[0]), "VH", fontsize=5.5, va="center", color=MAGENTA)
ov.text(953, ypx(PC, VOL_MARKS_0417[1]), "POC", fontsize=5.5, va="center", color="red")
ov.text(953, ypx(PC, VOL_MARKS_0417[2]), "VL", fontsize=5.5, va="center", color=MAGENTA)
ov.text(943, 446, "[VOL] 155,293", fontsize=5.5, ha="right", va="center", color="#333333")
ov.text(943, 456, "04/17 RTH", fontsize=5.5, ha="right", va="center", color="#333333")
ov.text(1509, 382, "[VOL] 50,492", fontsize=5.5, ha="right", va="center", color="#333333")
ov.text(1509, 392, "04/18 RTH", fontsize=5.5, ha="right", va="center", color="#333333")
ov.text(1503, 449, "1", fontsize=7.5, ha="center", va="center", color="#400040")
ov.text(302, 472, "\u00a9 2013 NinjaTrader, LLC", fontsize=7.5, va="center", color="#202020")
ov.text(302, 492, "Final - www.fin-alg.com", fontsize=8, va="center", color="#2a7fd4")

# ---------------- panel D: 5 min bars with vwap bands ----------------
PD = dict(x0=300, x1=1537, y0=555, y1=1043, lo=85.806, hi=88.341)
axD = px_axes(PD["x0"], PD["y0"], PD["x1"], PD["y1"], z=5)
yt = np.round(np.arange(86.0, 88.25, 0.2), 2)
style_price_axis(axD, yt, tick_labels(PD, yt, BOXES_5M, 6.5))
up = np.asarray(BAND_UP)
dn = np.asarray(BAND_DN)
axD.fill(np.r_[up[:, 0], dn[::-1, 0]], np.r_[up[:, 1], dn[::-1, 1]], color=FILLGRAY, lw=0, zorder=1)
profile(axD, PROF_5M_LEVELS, PROF_5M, 174.93, 6.7, "---------")
for pts in [DOT_UP, DOT_MID, DOT_LOW, DOT_DN]:
    line(axD, pts, color="black", linewidth=0.8, linestyle=(0, (2, 2)), zorder=2)
line(axD, BAND_OUT_UP, color="#707070", linewidth=2.4, zorder=2)
line(axD, BAND_OUT_DN, color="#707070", linewidth=2.4, zorder=2)
line(axD, BAND_UP, color="black", linewidth=1.8, zorder=2)
line(axD, BAND_DN, color="black", linewidth=1.8, zorder=2)
axD.hlines(LEVELS_5M, -1.8, 174.93, color="black", lw=2.4, zorder=3)
axD.plot([-0.9, 136], [Y_VWAP_5M, Y_VWAP_5M], color="black", lw=2.9, ls=(0, (2.8, 1.25)), zorder=3)
axD.plot([-0.9, 136], [Y_CLOSE_5M, Y_CLOSE_5M], color=MAGENTA, lw=2.4, ls=(0, (3, 1.8)), zorder=3)
axD.plot([-0.9, 136], [Y_LOW_5M, Y_LOW_5M], color="red", lw=2.9, ls=(0, (2.8, 1.3)), zorder=3)
line(axD, VWAP_5M, color="black", linewidth=2.2, linestyle=(0, (1, 1.4)), zorder=4)
line(axD, VWAP_5M_RED, color="red", linewidth=2.2, linestyle=(0, (1, 1.4)), zorder=4)
axD.hlines(MARKS_5M[0], 168.1, 174.93, color=MAGENTA, lw=2.2, zorder=3)
axD.hlines(MARKS_5M[1], 168.1, 174.93, color="#cc0000", lw=2.2, zorder=3)
axD.hlines(MARKS_5M[2], 168.1, 174.93, color=MAGENTA, lw=2.2, zorder=3)
axD.hlines(LAST, 135, 174.93, color=PINK, lw=1.5, zorder=7)
candles(axD, np.arange(len(BARS_5M)), BARS_5M, 0.68, min_h=0.007)
axD.text(140.4, Y_VWAP_5M + 0.01, "Y-VWAP", fontsize=8, va="center", color="#555555", zorder=8)
axD.text(140.4, Y_CLOSE_5M, "Y-Close", fontsize=8, va="center", color=MAGENTA, zorder=8)
axD.text(140.4, Y_LOW_5M, "Y-Low", fontsize=8, va="center", color="red", zorder=8)
for lvl in LEVELS_5M:
    axD.text(174.2, lvl + 0.02, "%.2f" % lvl, fontsize=11.5, fontweight="bold", ha="right",
             va="bottom", zorder=8)
axD.set_xticks([1 + 12 * k for k in range(len(HOURS_5M))])
axD.set_xticklabels(HOURS_5M)
finish(axD, (-1.79, 174.93), (PD["lo"], PD["hi"]))
clipD = (298, 548, 1562, 1069)
box_fc = ["#6a6a6a", "black", "black", "black", PINK, "black", "black", "black", MAGENTA, "black", "red", "#6a6a6a"]
for v, fc in zip(BOXES_5M, box_fc):
    price_box(PD, v, "%.2f" % v, fc, clip=clipD, h=12.5)
f_box(1546, 552)
ov.add_patch(Rectangle((1560, 550), 8, 14, fc="#d8d8d8", ec="#777777", lw=0.8, zorder=30))
ov.add_patch(Polygon([[1506, 560], [1506, 577], [1521, 568.5]], closed=True, fc="none", ec="#222222",
                     lw=0.8, zorder=30))
ov.add_patch(Rectangle((1523, 559), 3, 20, fc="none", ec="#222222", lw=0.8, zorder=30))
ov.text(1494, 581, "[RNG] 2.53", fontsize=5.5, va="center", color="#333333")
ov.text(1476, 1033, "00:04:26", fontsize=7.5, va="center", color="#202020")
ov.text(1526, 1020, "1", fontsize=7.5, ha="center", va="center", color="#400040")
ov.text(302, 1036, "\u00a9 2013 NinjaTrader, LLC", fontsize=7.5, va="center", color="#202020")

fig.savefig("out.png", dpi=100, facecolor=fig.get_facecolor())
